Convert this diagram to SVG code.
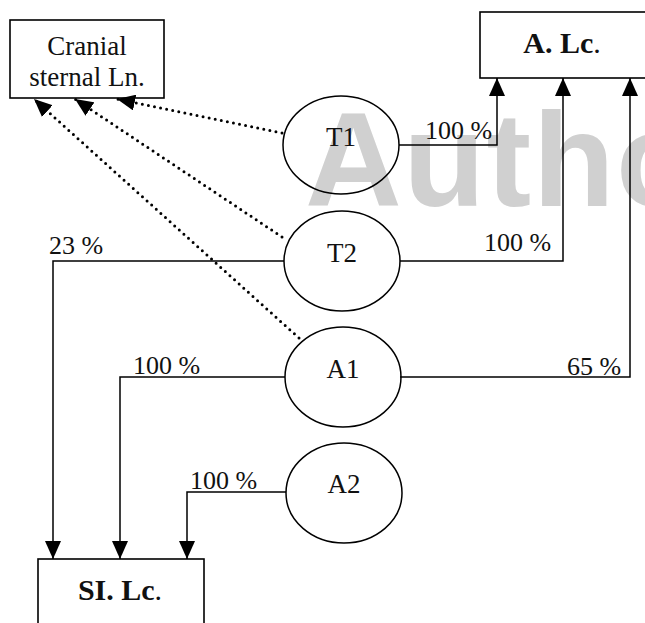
<svg xmlns="http://www.w3.org/2000/svg" width="645" height="623" viewBox="0 0 645 623">
  <style>
    .box { fill: #fff; stroke: #000; stroke-width: 1.6; }
    .node { fill: none; stroke: #000; stroke-width: 1.5; }
    .name { font-family: "Liberation Serif", "Times New Roman", serif; font-size: 27px; fill: #111; text-anchor: middle; }
    .title { font-family: "Liberation Serif", "Times New Roman", serif; font-size: 30px; font-weight: bold; fill: #111; text-anchor: middle; }
    .pct { font-family: "Liberation Serif", "Times New Roman", serif; font-size: 26px; fill: #111; }
    .flow { fill: none; stroke: #000; stroke-width: 1.5; marker-end: url(#head); }
    .drain { fill: none; stroke: #000; stroke-width: 3; stroke-linecap: round; stroke-dasharray: 0 6.2; marker-end: url(#head); }
    .mark { font-family: "Liberation Sans", Arial, sans-serif; font-size: 134px; font-weight: bold; letter-spacing: 1.5px; fill: #d0d0d0; }
  </style>
  <defs>
    <marker id="head" viewBox="0 0 18 16" refX="18" refY="8" markerWidth="18" markerHeight="16" markerUnits="userSpaceOnUse" orient="auto">
      <path d="M0,0 L18,8 L0,16 z" fill="#000"/>
    </marker>
  </defs>

  <rect width="645" height="623" fill="#fff"/>

  <!-- background watermark -->
  <text class="mark" x="305" y="206">Autho</text>

  <!-- lymph centres -->
  <g id="cranial-sternal">
    <rect class="box" x="10" y="20" width="154" height="78"/>
    <text class="name" x="87" y="55">Cranial</text>
    <text class="name" x="87" y="86">sternal Ln.</text>
  </g>
  <g id="a-lc">
    <rect class="box" x="480" y="12" width="180" height="66"/>
    <text class="title" x="562" y="53">A. Lc<tspan font-weight="normal">.</tspan></text>
  </g>
  <g id="sl-lc">
    <rect class="box" x="38" y="559" width="166" height="80"/>
    <text class="title" x="120" y="600">SI. Lc<tspan font-weight="normal">.</tspan></text>
  </g>

  <!-- connectors -->
  <g id="connectors">
    <path class="flow" d="M399,145 H497 V78"/>
    <path class="flow" d="M400,261 H563 V78"/>
    <path class="flow" d="M400,377 H630 V78"/>
    <path class="flow" d="M284,261 H53 V559"/>
    <path class="flow" d="M285,377 H120 V559"/>
    <path class="flow" d="M286,492 H187 V559"/>
    <path class="drain" d="M282,133 L117,99"/>
    <path class="drain" d="M282,237 L75,99"/>
    <path class="drain" d="M299,338 L34,99"/>
    <text class="pct" x="425" y="139">100 %</text>
    <text class="pct" x="484" y="251">100 %</text>
    <text class="pct" x="567" y="375">65 %</text>
    <text class="pct" x="49" y="254">23 %</text>
    <text class="pct" x="133" y="374">100 %</text>
    <text class="pct" x="190" y="489">100 %</text>
  </g>

  <!-- source nodes -->
  <g id="t1">
    <ellipse class="node" cx="341" cy="145" rx="58" ry="49"/>
    <text class="name" x="341" y="146">T1</text>
  </g>
  <g id="t2">
    <ellipse class="node" cx="342" cy="261" rx="58" ry="50"/>
    <text class="name" x="342" y="262">T2</text>
  </g>
  <g id="a1">
    <ellipse class="node" cx="343" cy="377" rx="58" ry="50"/>
    <text class="name" x="343" y="378">A1</text>
  </g>
  <g id="a2">
    <ellipse class="node" cx="344" cy="493" rx="58" ry="50"/>
    <text class="name" x="344" y="493">A2</text>
  </g>
</svg>
